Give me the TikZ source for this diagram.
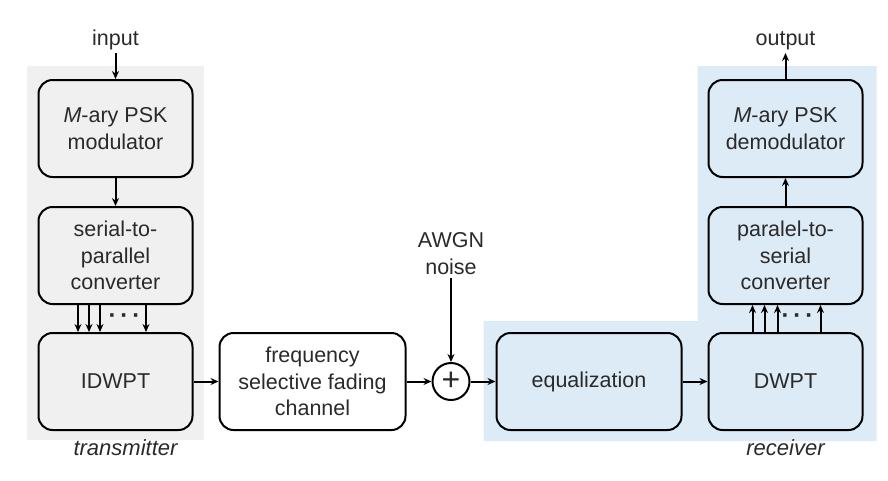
\documentclass[tikz,border=0pt]{standalone}
\usepackage{fontspec}
\setmainfont{Liberation Sans}
\usepackage{xcolor}
\definecolor{textcolor}{HTML}{2A2A2A}
\definecolor{txfill}{HTML}{F0F0F0}
\definecolor{rxfill}{HTML}{DDEBF7}
\usetikzlibrary{positioning,arrows.meta,calc,backgrounds}
\tikzset{
    block/.style={
        rectangle,
        draw=black,
        text=textcolor,
        minimum height=97pt,
        minimum width=154pt,
        align=center,
        rounded corners=14pt,
        line width=2pt,
        font=\fontsize{21.5}{26.5}\selectfont,
    },
    adder/.style={
        circle,
        draw=black,
        text=textcolor,
        minimum size=37pt,
        inner sep=0pt,
        line width=2pt,
        font=\fontsize{32}{32}\selectfont,
    },
    signal/.style={
        -{Stealth[length=8pt,width=7pt]},
        line width=2pt,
    },
    label/.style={
        text=textcolor,
        align=center,
        font=\fontsize{21.5}{26.5}\selectfont,
    },
    sidelabel/.style={
        text=textcolor,
        font=\fontsize{22}{26}\selectfont\itshape,
    },
    dotsnode/.style={
        text=textcolor,
        inner sep=0pt,
        font=\fontsize{24}{24}\selectfont\bfseries,
    },
}

\begin{document}
\begin{tikzpicture}[x=1pt,y=-1pt]
    \useasboundingbox (0,0) rectangle (888,480);
    % transmitter chain
    \node[block] (mod) at (115.5,128.5) {\textit{M}-ary PSK\\modulator};
    \node[block, below=28pt of mod] (s2p) {serial-to-\\parallel\\converter};
    \node[block, below=27pt of s2p] (idwpt) {IDWPT};
    % channel
    \node[block, right=25pt of idwpt, minimum width=186pt] (chan) {frequency\\selective fading\\channel};
    \node[adder, right=25pt of chan] (add) {+};
    \node[label, above=84pt of add] (noise) {AWGN\\noise};
    % receiver chain
    \node[block, right=25pt of add, minimum width=185pt] (eq) {equalization};
    \node[block, right=25pt of eq] (dwpt) {DWPT};
    \node[block, above=27pt of dwpt] (p2s) {paralel-to-\\serial\\converter};
    \node[block, above=28pt of p2s] (demod) {\textit{M}-ary PSK\\demodulator};
    \node[label, above=26pt of mod] (input) {input};
    \node[label, above=26pt of demod] (output) {output};
    \node[sidelabel, below=5pt of idwpt, xshift=10pt] (txlabel) {transmitter};
    \node[sidelabel, below=5pt of dwpt] (rxlabel) {receiver};

    \begin{scope}[on background layer]
        \fill[txfill] ($(mod.north west)+(-11,-13)$) rectangle ($(idwpt.south east)+(10,9)$);
        \fill[rxfill] ($(eq.south west)+(-12,10)$) |- ($(eq.north west)+(-12,-11)$)
            -| ($(demod.north west)+(-10,-13)$) -| ($(dwpt.south east)+(13,10)$) -- cycle;
    \end{scope}

    \draw[signal] (input) -- (mod);
    \draw[signal] (mod) -- (s2p);
    \foreach \dx in {-37.5,-26.5,-15.5,30.5}
        \draw[signal] ($(s2p.south)+(\dx,0)$) -- ($(idwpt.north)+(\dx,0)$);
    \node[dotsnode] (txdots) at ($(s2p.south)!0.5!(idwpt.north)+(9,0)$) {·\,·\,·};
    \draw[signal] (idwpt) -- (chan);
    \draw[signal] (chan) -- (add);
    \draw[signal] (noise) -- (add);
    \draw[signal] (add) -- (eq);
    \draw[signal] (eq) -- (dwpt);
    \foreach \dx in {-33,-21,-8,35}
        \draw[signal] ($(dwpt.north)+(\dx,0)$) -- ($(p2s.south)+(\dx,0)$);
    \node[dotsnode] (rxdots) at ($(dwpt.north)!0.5!(p2s.south)+(12,0)$) {·\,·\,·};
    \draw[signal] (p2s) -- (demod);
    \draw[signal] (demod) -- (output);
\end{tikzpicture}
\end{document}
